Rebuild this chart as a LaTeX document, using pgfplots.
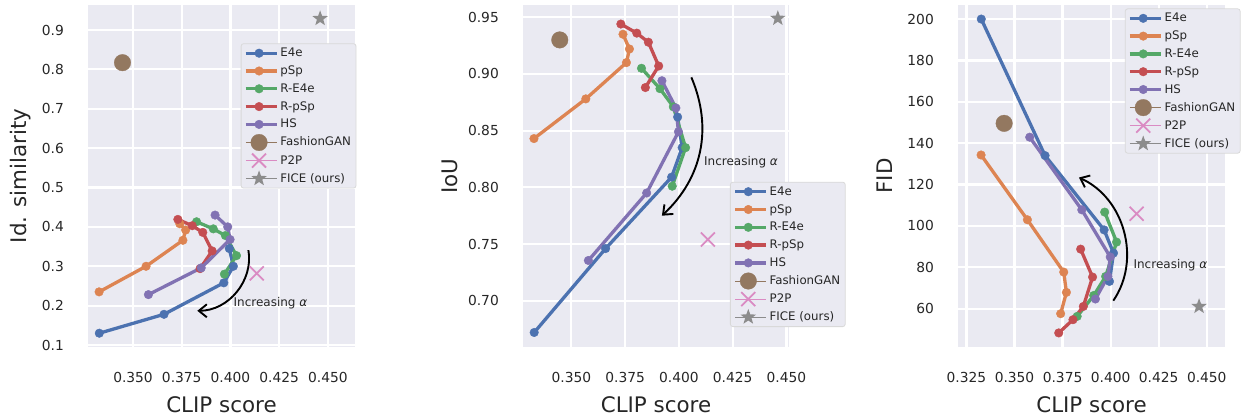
\documentclass[border=0pt]{standalone}
\usepackage{pgfplots}
\pgfplotsset{compat=1.18}
\usepackage{pgfplotstable}
\usepackage{fontspec}
\setmainfont{DejaVu Sans}
\usetikzlibrary{arrows.meta}

\definecolor{cBlue}{HTML}{4C72B0}
\definecolor{cOrange}{HTML}{DD8452}
\definecolor{cGreen}{HTML}{55A868}
\definecolor{cRed}{HTML}{C44E52}
\definecolor{cPurple}{HTML}{8172B3}
\definecolor{cBrown}{HTML}{937860}
\definecolor{cPink}{HTML}{DA8BC3}
\definecolor{cGray}{HTML}{8C8C8C}
\definecolor{bgc}{HTML}{EAEAF2}
\definecolor{txt}{HTML}{262626}

\pgfdeclareplotmark{fstar}{%
  \pgfpathmoveto{\pgfpointpolar{90}{\pgfplotmarksize}}%
  \pgfpathlineto{\pgfpointpolar{126}{0.41*\pgfplotmarksize}}%
  \pgfpathlineto{\pgfpointpolar{162}{\pgfplotmarksize}}%
  \pgfpathlineto{\pgfpointpolar{198}{0.41*\pgfplotmarksize}}%
  \pgfpathlineto{\pgfpointpolar{234}{\pgfplotmarksize}}%
  \pgfpathlineto{\pgfpointpolar{270}{0.41*\pgfplotmarksize}}%
  \pgfpathlineto{\pgfpointpolar{306}{\pgfplotmarksize}}%
  \pgfpathlineto{\pgfpointpolar{342}{0.41*\pgfplotmarksize}}%
  \pgfpathlineto{\pgfpointpolar{18}{\pgfplotmarksize}}%
  \pgfpathlineto{\pgfpointpolar{54}{0.41*\pgfplotmarksize}}%
  \pgfpathclose
  \pgfusepathqfill
}

% columns: CLIP score, Id. similarity, IoU, FID
\pgfplotstableread{
clip id iou fid
0.3994 0.345 0.862 73.2
0.4015 0.300 0.835 86.9
0.3966 0.258 0.809 98.1
0.3659 0.178 0.746 134.0
0.3327 0.130 0.672 200.0
}\tabEfe
\pgfplotstableread{
clip id iou fid
0.3740 0.408 0.935 57.6
0.3770 0.392 0.922 67.9
0.3756 0.366 0.910 77.7
0.3567 0.300 0.878 103.0
0.3326 0.235 0.843 134.3
}\tabPsp
\pgfplotstableread{
clip id iou fid
0.3826 0.413 0.905 56.3
0.3912 0.395 0.887 66.4
0.3974 0.378 0.871 75.6
0.4031 0.327 0.835 92.2
0.3969 0.280 0.801 106.7
}\tabREfe
\pgfplotstableread{
clip id iou fid
0.3730 0.419 0.944 48.3
0.3804 0.403 0.936 54.7
0.3858 0.386 0.928 61.1
0.3906 0.339 0.907 75.3
0.3844 0.294 0.888 88.8
}\tabRPsp
\pgfplotstableread{
clip id iou fid
0.3921 0.430 0.894 64.7
0.3986 0.400 0.870 75.6
0.3998 0.368 0.849 85.0
0.3850 0.296 0.795 107.8
0.3579 0.228 0.7355 142.9
}\tabHS
\pgfplotstableread{
clip id iou fid
0.3446 0.817 0.930 149.6
}\tabFG
\pgfplotstableread{
clip id iou fid
0.4135 0.282 0.754 105.9
}\tabPtP
\pgfplotstableread{
clip id iou fid
0.4460 0.929 0.949 61.1
}\tabFICE

\tikzset{
  incr/.style={-{Straight Barb[length=8pt,width=13pt]}, line width=1.9pt, black},
  incrtxt/.style={anchor=west, font=\fontsize{12}{14}\selectfont, text=txt},
}

\pgfplotsset{
  fice/.style={
    scale only axis,
    width=267pt, height=342pt,
    axis background/.style={fill=bgc},
    grid=major,
    major grid style={draw=white, line width=2.2pt},
    axis line style={draw=none},
    major tick length=0pt,
    tick label style={font=\fontsize{13.8}{16}\selectfont, text=txt},
    /pgf/number format/assume math mode=true,
    xticklabel style={anchor=base, yshift=-36pt, inner sep=0pt,
      /pgf/number format/.cd, fixed, fixed zerofill, precision=3},
    yticklabel style={anchor=east, xshift=-24pt, inner sep=0pt},
    xtick={0.35,0.375,0.4,0.425,0.45},
    xlabel={CLIP score},
    every axis x label/.style={at={(axis description cs:0.5,-0.1696)}, anchor=center,
      font=\fontsize{21.4}{24}\selectfont, text=txt},
    legend cell align=left,
    legend image code/.code={%
      \draw[mark repeat=2,mark phase=2,##1] plot coordinates {(0pt,0pt) (13.3pt,0pt) (26.7pt,0pt)};
      \path (0pt,0pt) -- (31pt,0pt);},
    legend style={draw=black!15, fill=bgc, rounded corners=2.5pt, line width=0.8pt,
      inner xsep=3pt, inner ysep=1.5pt, font=\fontsize{11.8}{14}\selectfont, text=txt,
      nodes={inner sep=2pt, text height=9.5pt, text depth=2.5pt}, row sep=1.8pt},
  },
  ser/.style={color=#1, line width=3.3pt, mark=*, mark size=4.3pt,
    mark options={solid, fill=#1, draw=#1, line width=0.4pt}},
  fgan/.style={only marks, mark=*, mark size=8.3pt, color=cBrown, mark options={fill=cBrown, line width=0.3pt}},
  ptp/.style={only marks, mark=x, mark size=9.9pt, color=cPink, mark options={line width=1.8pt}},
  fice star/.style={only marks, mark=fstar, mark size=8.2pt, color=cGray, mark options={fill=cGray}},
}

\begin{document}
\begin{tikzpicture}
\path[use as bounding box] (0,0) rectangle (1244pt,419pt);

% ---------- Panel 1: Id. similarity ----------
\begin{axis}[fice, at={(88pt,72pt)}, anchor=south west,
  xmin=0.3269, xmax=0.4639, ymin=0.095, ymax=0.9635,
  ytick={0.1,0.2,0.3,0.4,0.5,0.6,0.7,0.8,0.9},
  yticklabel style={/pgf/number format/.cd, fixed, fixed zerofill, precision=1},
  ylabel={Id. similarity},
  every axis y label/.style={at={(axis description cs:-0.251,0.5)}, rotate=90, anchor=center,
    font=\fontsize{21.4}{24}\selectfont, text=txt},
  legend style={at={(0.572,0.888)}, anchor=north west},
]
\addplot[ser=cBlue] table[x=clip,y=id] {\tabEfe};
\addplot[ser=cOrange] table[x=clip,y=id] {\tabPsp};
\addplot[ser=cGreen] table[x=clip,y=id] {\tabREfe};
\addplot[ser=cRed] table[x=clip,y=id] {\tabRPsp};
\addplot[ser=cPurple] table[x=clip,y=id] {\tabHS};
\addplot[fgan] table[x=clip,y=id] {\tabFG};
\addplot[ptp] table[x=clip,y=id] {\tabPtP};
\addplot[fice star] table[x=clip,y=id] {\tabFICE};
\legend{E4e,pSp,R-E4e,R-pSp,HS,FashionGAN,P2P,FICE (ours)}
\draw[incr] (axis cs:0.4092,0.341) to[bend left=50] (axis cs:0.383,0.187);
\node[incrtxt] at (axis cs:0.3998,0.2063) {Increasing {\itshape α}};
\end{axis}

% ---------- Panel 2: IoU ----------
\begin{axis}[fice, at={(523pt,72pt)}, anchor=south west, width=266pt,
  xmin=0.3275, xmax=0.4512, ymin=0.6592, ymax=0.9608,
  ytick={0.70,0.75,0.80,0.85,0.90,0.95},
  yticklabel style={/pgf/number format/.cd, fixed, fixed zerofill, precision=2},
  ylabel={IoU},
  every axis y label/.style={at={(axis description cs:-0.274,0.5)}, rotate=90, anchor=center,
    font=\fontsize{21.4}{24}\selectfont, text=txt},
  legend style={at={(0.778,0.483)}, anchor=north west},
]
\addplot[ser=cBlue] table[x=clip,y=iou] {\tabEfe};
\addplot[ser=cOrange] table[x=clip,y=iou] {\tabPsp};
\addplot[ser=cGreen] table[x=clip,y=iou] {\tabREfe};
\addplot[ser=cRed] table[x=clip,y=iou] {\tabRPsp};
\addplot[ser=cPurple] table[x=clip,y=iou] {\tabHS};
\addplot[fgan] table[x=clip,y=iou] {\tabFG};
\addplot[ptp] table[x=clip,y=iou] {\tabPtP};
\addplot[fice star] table[x=clip,y=iou] {\tabFICE};
\legend{E4e,pSp,R-E4e,R-pSp,HS,FashionGAN,P2P,FICE (ours)}
\draw[incr] (axis cs:0.4058,0.897) to[bend left=35] (axis cs:0.3921,0.775);
\node[incrtxt] at (axis cs:0.4101,0.8219) {Increasing {\itshape α}};
\end{axis}

% ---------- Panel 3: FID ----------
\begin{axis}[fice, at={(958pt,72pt)}, anchor=south west,
  xmin=0.3206, xmax=0.4595, ymin=41.5, ymax=206.8,
  xtick={0.325,0.35,0.375,0.4,0.425,0.45},
  ytick={60,80,100,120,140,160,180,200},
  ylabel={FID},
  every axis y label/.style={at={(axis description cs:-0.273,0.5)}, rotate=90, anchor=center,
    font=\fontsize{21.4}{24}\selectfont, text=txt},
  legend style={at={(0.625,0.990)}, anchor=north west},
]
\addplot[ser=cBlue] table[x=clip,y=fid] {\tabEfe};
\addplot[ser=cOrange] table[x=clip,y=fid] {\tabPsp};
\addplot[ser=cGreen] table[x=clip,y=fid] {\tabREfe};
\addplot[ser=cRed] table[x=clip,y=fid] {\tabRPsp};
\addplot[ser=cPurple] table[x=clip,y=fid] {\tabHS};
\addplot[fgan] table[x=clip,y=fid] {\tabFG};
\addplot[ptp] table[x=clip,y=fid] {\tabPtP};
\addplot[fice star] table[x=clip,y=fid] {\tabFICE};
\legend{E4e,pSp,R-E4e,R-pSp,HS,FashionGAN,P2P,FICE (ours)}
\draw[incr] (axis cs:0.4014,63.9) to[bend right=50] (axis cs:0.3835,123.4);
\node[incrtxt] at (axis cs:0.4101,81.2) {Increasing {\itshape α}};
\end{axis}
\end{tikzpicture}
\end{document}
